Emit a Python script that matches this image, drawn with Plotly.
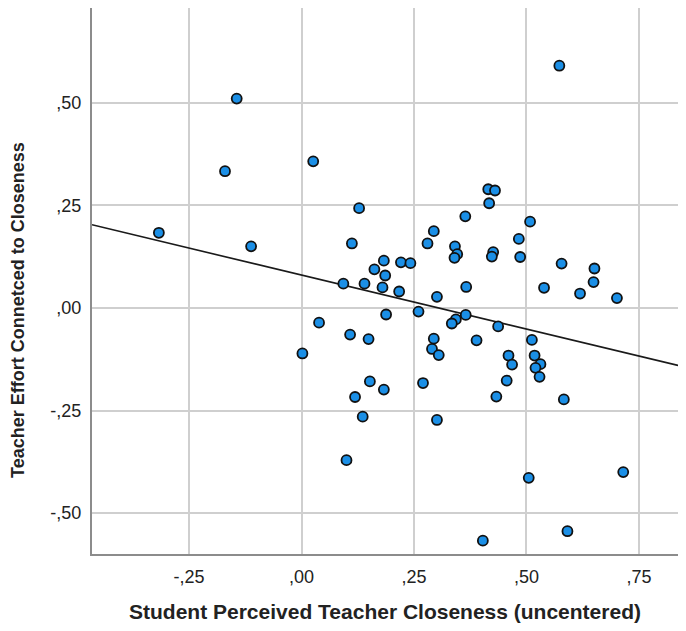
import plotly.graph_objects as go

# Data
closeness = [
    -0.144, -0.170, 0.026, 0.128, -0.317, -0.112, 0.112, 0.183, 0.162, 0.186,
    0.093, 0.140, 0.180, 0.573, 0.415, 0.430, 0.417, 0.364, 0.508, 0.294,
    0.280, 0.483, 0.341, 0.346, 0.340, 0.426, 0.423, 0.486, 0.578, 0.651,
    0.649, 0.619, 0.701, 0.221, 0.242, 0.217, 0.301, 0.366, 0.539, 0.188,
    0.039, 0.108, 0.149, 0.002, 0.152, 0.183, 0.119, 0.136, 0.100, 0.260,
    0.343, 0.334, 0.365, 0.437, 0.294, 0.290, 0.305, 0.389, 0.512, 0.460,
    0.468, 0.518, 0.531, 0.520, 0.529, 0.456, 0.433, 0.583, 0.270, 0.301,
    0.505, 0.715, 0.591, 0.403,
]
effort = [
    0.510, 0.333, 0.357, 0.243, 0.183, 0.150, 0.157, 0.115, 0.094, 0.079,
    0.059, 0.059, 0.050, 0.590, 0.289, 0.286, 0.255, 0.223, 0.210, 0.187,
    0.157, 0.168, 0.150, 0.131, 0.122, 0.136, 0.125, 0.124, 0.108, 0.096,
    0.063, 0.035, 0.024, 0.111, 0.109, 0.040, 0.027, 0.051, 0.049, -0.016,
    -0.036, -0.065, -0.076, -0.111, -0.179, -0.199, -0.217, -0.265, -0.371, -0.009,
    -0.028, -0.038, -0.017, -0.045, -0.075, -0.100, -0.115, -0.079, -0.078, -0.116,
    -0.138, -0.116, -0.137, -0.146, -0.168, -0.177, -0.216, -0.223, -0.183, -0.273,
    -0.414, -0.400, -0.544, -0.567,
]

# Fit line coefficients
fit_intercept = 0.080
fit_slope = -0.263

x_tickvals = [-0.25, 0.0, 0.25, 0.5, 0.75]
x_ticktext = ["-,25", ",00", ",25", ",50", ",75"]
y_tickvals = [-0.5, -0.25, 0.0, 0.25, 0.5]
y_ticktext = ["-,50", "-,25", ",00", ",25", ",50"]

x_title = "Student Perceived Teacher Closeness (uncentered)"
y_title = "Teacher Effort Connetced to Closeness"

x_range = [-0.4656, 0.8367]
y_range = [-0.5995, 0.7306]

fit_x = list(x_range)
fit_y = [fit_intercept + fit_slope * v for v in fit_x]

fig = go.Figure()
fig.add_trace(go.Scatter(
    x=fit_x, y=fit_y, mode="lines",
    line=dict(color="#1a1a1a", width=1.6),
    hoverinfo="skip", showlegend=False,
))
fig.add_trace(go.Scatter(
    x=closeness, y=effort, mode="markers",
    marker=dict(size=10, color="#1b8fe6", line=dict(color="#111111", width=1.8)),
    showlegend=False,
))

font_family = "Liberation Sans, Arial, sans-serif"
fig.update_layout(
    width=670, height=615,
    margin=dict(l=84, r=0, t=0, b=67),
    paper_bgcolor="white", plot_bgcolor="white",
    font=dict(family=font_family, color="#222222"),
    xaxis=dict(
        range=x_range, tickvals=x_tickvals, ticktext=x_ticktext,
        showgrid=True, gridcolor="#cfcfcf", gridwidth=1.7,
        zeroline=False, showline=True, linecolor="#8c8c8c", linewidth=2,
        ticks="", ticklabelstandoff=5, tickfont=dict(size=18, color="#222222"),
        title=dict(text="<b>" + x_title + "</b>",
                   font=dict(size=21, color="#222222"), standoff=22),
    ),
    yaxis=dict(
        range=y_range, tickvals=y_tickvals, ticktext=y_ticktext,
        showgrid=True, gridcolor="#cfcfcf", gridwidth=1.7,
        zeroline=False, showline=True, linecolor="#8c8c8c", linewidth=2,
        ticks="", ticklabelstandoff=5, tickfont=dict(size=18, color="#222222"),
    ),
    annotations=[dict(
        text="<b>" + y_title + "</b>", textangle=-90,
        xref="paper", yref="paper", x=-0.1263, y=0.447,
        xanchor="center", yanchor="middle", showarrow=False,
        font=dict(size=18, color="#222222"),
    )],
)

fig.write_html("out.html")
